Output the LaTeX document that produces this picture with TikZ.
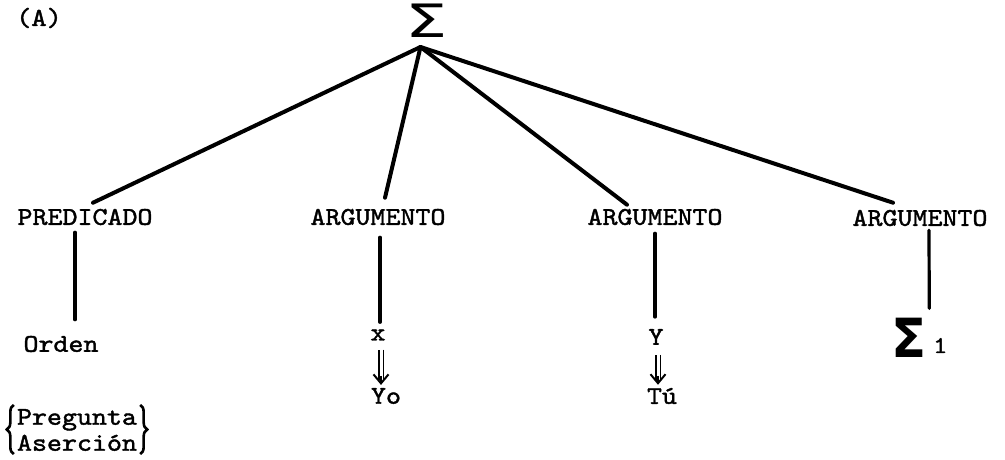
\documentclass[tikz,border=0pt]{standalone}
\usepackage{fontspec}
\newfontfamily\dejavu{DejaVu Sans}
\newfontfamily\twfont{lmmono10-regular.otf}[FakeBold=1.6, FakeStretch=1.12]
\usetikzlibrary{arrows.meta,decorations.pathreplacing}
\tikzset{
  lbl/.style={font=\twfont\fontsize{25.5}{26}\selectfont, inner sep=0pt},
  branch/.style={line width=4pt, line cap=round},
  stem/.style={line width=3.2pt, line cap=round},
  shaft/.style={double, double distance=3pt, line width=1.5pt},
  head/.style={line width=2pt, -{Straight Barb[length=9pt, width=15pt]}},
  bracepath/.style={decorate, decoration={brace, amplitude=7pt}, line width=2.6pt}
}
\begin{document}
\begin{tikzpicture}[x=1pt,y=1pt]
\useasboundingbox (0,0) rectangle (1005,460);
% title
\node[lbl, font=\twfont\fontsize{26}{26}\selectfont] (A) at (39,442) {(A)};
% root
\node[inner sep=0pt, anchor=south, font=\dejavu\fontsize{46}{46}\selectfont] (S) at (426.5,422) {\scalebox{1.45}[1]{Σ}};
% level 1
\node[lbl] (P)  at (85,243)  {PREDICADO};
\node[lbl] (A1) at (378,243) {ARGUMENTO};
\node[lbl] (A2) at (655,243) {ARGUMENTO};
\node[lbl] (A3) at (920,242) {ARGUMENTO};
% level 2
\node[lbl] (O)  at (61,116)  {Orden};
\node[lbl] (X)  at (378,125) {x};
\node[lbl] (Y)  at (656,123) {Y};
\node[inner sep=0pt, anchor=base west] (S1) at (891,102)
  {{\dejavu\bfseries\fontsize{54}{54}\selectfont\scalebox{0.95}[1]{Σ}}\hspace{7pt}\raisebox{5pt}{\twfont\fontsize{24}{24}\selectfont 1}};
% level 3
\node[lbl] (Yo) at (386,64) {Yo};
\node[lbl] (Tu) at (662,64) {Tú};
% braces
\node[lbl, align=left] (PA) at (77,30)
  {Pregunta\\[0pt]Aserción};
\draw[bracepath] ([xshift=-3pt,yshift=-3pt]PA.south west) -- ([xshift=-3pt,yshift=4pt]PA.north west);
\draw[bracepath] ([xshift=3pt,yshift=4pt]PA.north east) -- ([xshift=3pt,yshift=-3pt]PA.south east);
% branches
\draw[branch] ([shift={(-6pt,-9pt)}]S.south) -- ([shift={(8pt,6pt)}]P.north);
\draw[branch] ([shift={(-6pt,-9pt)}]S.south) -- ([shift={(7pt,11pt)}]A1.north);
\draw[branch] ([shift={(-6pt,-9pt)}]S.south) -- ([shift={(-28pt,4pt)}]A2.north);
\draw[branch] ([shift={(-6pt,-9pt)}]S.south) -- ([shift={(-27pt,7pt)}]A3.north);
% stems
\draw[stem] ([shift={(-10pt,-7pt)}]P.south) -- ([shift={(14pt,16pt)}]O.north);
\draw[stem] ([shift={(2pt,-12pt)}]A1.south) -- ([shift={(2pt,7pt)}]X.north);
\draw[stem] ([shift={(0pt,-8pt)}]A2.south) -- ([shift={(-1pt,12pt)}]Y.north);
\draw[stem] ([shift={(9pt,-4pt)}]A3.south) -- ([shift={(10pt,10pt)}]S1.north);
% implications
\draw[shaft] ([shift={(3pt,-9pt)}]X.south) -- ([shift={(-5pt,8pt)}]Yo.north);
\draw[head] ([shift={(-5pt,12pt)}]Yo.north) -- ([shift={(-5pt,3pt)}]Yo.north);
\draw[shaft] ([shift={(2pt,-10pt)}]Y.south) -- ([shift={(-4pt,8pt)}]Tu.north);
\draw[head] ([shift={(-4pt,12pt)}]Tu.north) -- ([shift={(-4pt,3pt)}]Tu.north);
\end{tikzpicture}
\end{document}
